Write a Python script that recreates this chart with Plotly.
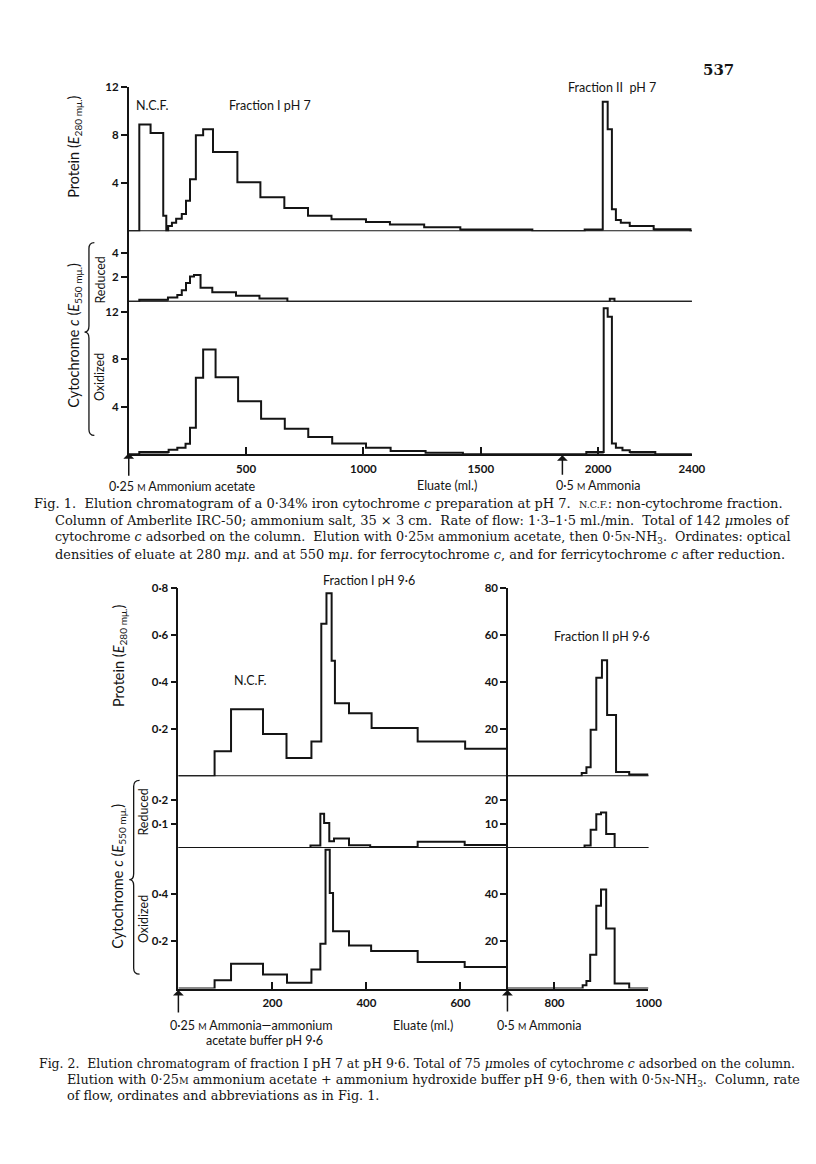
import plotly.graph_objects as go

W, H = 816, 1164
def X(px): return px / W
def Y(py): return 1 - py / H

# ---------------- Fig. 1 data (eluate ml bin edges, optical density) ----------------
f1_prot_edges = [0, 45, 93, 147, 160, 168, 184, 202, 226, 244, 261, 286, 317, 359, 463, 561, 663, 764,
                 864, 1011, 1113, 1259, 1413, 1720, 1943, 2020, 2041, 2059, 2076, 2097, 2135, 2237, 2394, 2400]
f1_prot_vals = [0, 8.9, 8.2, 1.3, 0, 0.45, 0.72, 1.05, 1.45, 2.55, 4.35, 8.0, 8.5, 6.6, 4.1, 2.85, 1.95,
                1.3, 1.0, 0.78, 0.58, 0.35, 0.15, 0, 0.15, 10.8, 8.5, 1.85, 0.95, 0.72, 0.45, 0.18, 0]
f1_prot_shaded = [1413, 1943, 2237]          # fractions drawn with grey fill (start edge)

f1_red_edges = [0, 45, 167, 207, 226, 244, 261, 278, 306, 356, 457, 557, 676, 2050, 2070, 2400]
f1_red_vals = [0, 0.16, 0.35, 0.55, 0.95, 1.55, 2.08, 2.2, 1.15, 0.77, 0.5, 0.27, 0, 0.25, 0]
f1_red_shaded = [45]

f1_ox_edges = [0, 45, 170, 207, 242, 261, 286, 317, 370, 466, 564, 665, 765, 867, 1011, 1116, 1265,
               1424, 1950, 2024, 2041, 2059, 2076, 2104, 2135, 2244, 2400]
f1_ox_vals = [0, 0.2, 0.38, 0.56, 0.89, 2.23, 6.46, 8.84, 6.5, 4.47, 2.99, 2.15, 1.45, 0.92, 0.56,
              0.28, 0.14, 0, 0.2, 12.3, 11.6, 0.9, 0.56, 0.34, 0.2, 0]
f1_ox_shaded = [45, 1950, 2135]

f1_xticks = [500, 1000, 1500, 2000, 2400]
f1_prot_ticks = [4, 8, 12]
f1_red_ticks = [2, 4]
f1_ox_ticks = [4, 8, 12]

# ---------------- Fig. 2 data ----------------
# fraction I (left scale) and fraction II (right scale, x100)
f2_prot_edges = [0, 77, 112, 180, 230, 283, 304, 315, 326, 333, 363, 411, 509, 610, 700]
f2_prot_vals = [0, 0.106, 0.285, 0.18, 0.078, 0.148, 0.647, 0.777, 0.49, 0.31, 0.268, 0.205, 0.148, 0.117]
f2_prot2_edges = [700, 858, 868, 877, 889, 901, 912, 931, 959, 1000]
f2_prot2_vals = [0, 1.4, 3.9, 19.8, 41.8, 49.3, 26, 1.8, 0.8]
f2_prot2_shaded = [959]

f2_red_edges = [0, 281, 302, 310, 321, 331, 363, 408, 509, 609, 700]
f2_red_vals = [0, 0.01, 0.143, 0.104, 0.028, 0.039, 0.011, 0.004, 0.026, 0.012]
f2_red2_edges = [700, 864, 877, 889, 899, 910, 928, 1000]
f2_red2_vals = [0, 1, 7.6, 14.1, 14.8, 5.8, 0]

f2_ox_edges = [0, 77, 112, 180, 231, 283, 302, 313, 322, 329, 363, 410, 509, 609, 700]
f2_ox_vals = [0, 0.035, 0.105, 0.059, 0.025, 0.08, 0.189, 0.585, 0.403, 0.242, 0.182, 0.158, 0.112, 0.091]
f2_ox2_edges = [700, 860, 868, 876, 889, 899, 910, 928, 959, 1000]
f2_ox2_vals = [0, 1.4, 3.2, 14.3, 34.9, 41.8, 25.3, 2.1, 0]

f2_xticks = [200, 400, 600, 800, 1000]
f2_prot_ticks = [0.2, 0.4, 0.6, 0.8]
f2_prot_labels = ["0·2", "0·4", "0·6", "0·8"]
f2_red_ticks = [0.1, 0.2]
f2_red_labels = ["0·1", "0·2"]
f2_ox_ticks = [0.2, 0.4]
f2_ox_labels = ["0·2", "0·4"]
f2_prot2_ticks = [20, 40, 60, 80]
f2_red2_ticks = [10, 20]
f2_ox2_ticks = [20, 40]

INK = "#141414"
GREY = "#8a8a8a"
SANS = "Lato"
SERIF = "DejaVu Serif"

fig = go.Figure()

def add_step(edges, vals, xa, ya, shaded=()):
    for s in shaded:
        i = edges.index(s)
        fig.add_trace(go.Scatter(x=[edges[i], edges[i + 1]], y=[vals[i], vals[i]], mode="lines",
                                 line=dict(width=0, color=GREY), fill="tozeroy", fillcolor=GREY,
                                 xaxis=xa, yaxis=ya, hoverinfo="skip"))
    fig.add_trace(go.Scatter(x=list(edges), y=list(vals) + [vals[-1]], mode="lines",
                             line=dict(shape="hv", color=INK, width=2),
                             xaxis=xa, yaxis=ya, hoverinfo="skip"))

add_step(f1_prot_edges, f1_prot_vals, "x", "y", f1_prot_shaded)
add_step(f1_red_edges, f1_red_vals, "x", "y2", f1_red_shaded)
add_step(f1_ox_edges, f1_ox_vals, "x", "y3", f1_ox_shaded)
add_step(f2_prot_edges, f2_prot_vals, "x2", "y4")
add_step(f2_red_edges, f2_red_vals, "x2", "y5")
add_step(f2_ox_edges, f2_ox_vals, "x2", "y6")
add_step(f2_prot2_edges, f2_prot2_vals, "x2", "y7", f2_prot2_shaded)
add_step(f2_red2_edges, f2_red2_vals, "x2", "y8")
add_step(f2_ox2_edges, f2_ox2_vals, "x2", "y9")

tickfont = dict(family=SANS, size=11.5, color=INK, weight="bold")

def xax(domain, rng, tickvals, anchor):
    return dict(domain=domain, range=rng, anchor=anchor, tickvals=tickvals, ticks="inside",
                ticklen=7, tickwidth=1.5, tickcolor=INK, showline=True, linewidth=2, linecolor=INK,
                showgrid=False, zeroline=False, tickfont=tickfont, fixedrange=True,
                ticklabelstandoff=3)

def yax(domain, rng, tickvals, anchor, ticktext=None, **kw):
    d = dict(domain=domain, range=rng, anchor=anchor, tickvals=tickvals, ticks="outside",
             ticklen=6, tickwidth=1.5, tickcolor=INK, showline=True, linewidth=1.6, linecolor=INK,
             showgrid=False, zeroline=False, tickfont=tickfont, fixedrange=True)
    if ticktext is not None:
        d["ticktext"] = ticktext
    d.update(kw)
    return d

# pixel geometry of panels
f1_x = [X(131), X(704)]
f1_prot_dom = [Y(225.7), Y(80.8)]
f1_red_dom = [Y(296.5), Y(225.7)]
f1_ox_dom = [Y(450), Y(296.5)]
f2_x = [X(181.5), X(659.8)]
f2_prot_dom = [Y(774), Y(584.3)]
f2_red_dom = [Y(846), Y(774)]
f2_ox_dom = [Y(987.5), Y(846)]
f2_mid = X(516)

layout = dict(
    width=W, height=H, margin=dict(l=0, r=0, t=0, b=0),
    paper_bgcolor="white", plot_bgcolor="rgba(0,0,0,0)", showlegend=False,
    xaxis=xax(f1_x, [0, 2400], f1_xticks, "y3"),
    xaxis2=xax(f2_x, [0, 1000], f2_xticks, "y6"),
    yaxis=yax(f1_prot_dom, [0, 12], f1_prot_ticks, "x"),
    yaxis2=yax(f1_red_dom, [0, 5.8], f1_red_ticks, "x"),
    yaxis3=yax(f1_ox_dom, [0, 12.86], f1_ox_ticks, "x"),
    yaxis4=yax(f2_prot_dom, [0, 0.8], f2_prot_ticks, "x2", f2_prot_labels),
    yaxis5=yax(f2_red_dom, [0, 0.3], f2_red_ticks, "x2", f2_red_labels),
    yaxis6=yax(f2_ox_dom, [0, 0.593], f2_ox_ticks, "x2", f2_ox_labels),
    yaxis7=yax(f2_prot_dom, [0, 80], f2_prot2_ticks, "free", overlaying="y4", position=f2_mid, side="left"),
    yaxis8=yax(f2_red_dom, [0, 30], f2_red2_ticks, "free", overlaying="y5", position=f2_mid, side="left"),
    yaxis9=yax(f2_ox_dom, [0, 59.3], f2_ox2_ticks, "free", overlaying="y6", position=f2_mid, side="left"),
)
fig.update_layout(**layout)

# panel baselines
shapes = []
for xr, yr in [("x domain", "y"), ("x domain", "y2"), ("x2 domain", "y4"), ("x2 domain", "y5")]:
    shapes.append(dict(type="line", xref=xr, yref=yr, x0=0, x1=1, y0=0, y1=0,
                       line=dict(color=INK, width=2), layer="above"))

def brace(xr, xm, xl, top, tip, bot):
    r = 6
    p = (f"M {X(xr)},{Y(top)} Q {X(xm)},{Y(top)} {X(xm)},{Y(top + r)} "
         f"L {X(xm)},{Y(tip - r)} Q {X(xm)},{Y(tip)} {X(xl)},{Y(tip)} "
         f"Q {X(xm)},{Y(tip)} {X(xm)},{Y(tip + r)} "
         f"L {X(xm)},{Y(bot - r)} Q {X(xm)},{Y(bot)} {X(xr)},{Y(bot)}")
    return dict(type="path", xref="paper", yref="paper", path=p, line=dict(color=INK, width=1.3))

shapes.append(brace(96, 90.5, 86, 237, 327, 431))
shapes.append(brace(142, 136, 131.5, 778, 878, 973))
fig.update_layout(shapes=shapes)

ann = []
def txt(x, y, s, size=12, family=SANS, angle=0, xanchor="center", weight="normal"):
    ann.append(dict(x=X(x), y=Y(y), xref="paper", yref="paper", text=s, showarrow=False,
                    textangle=angle, xanchor=xanchor, yanchor="middle",
                    font=dict(family=family, size=size, color=INK, weight=weight)))

def arrow(xref, xval, y_tip, y_tail):
    ann.append(dict(x=xval, xref=xref, y=Y(y_tip), yref="paper", ax=0, ay=y_tail - y_tip,
                    axref="pixel", ayref="pixel", text="", showarrow=True, arrowhead=1,
                    arrowsize=1.2, arrowwidth=1.5, arrowcolor=INK))

sm = lambda s, sz=9: f"<span style='font-size:{sz}px'>{s}</span>"

# ----- Fig. 1 labels -----
txt(731, 63, "537", size=15, family=SERIF, weight="bold")
txt(155, 99, "N.C.F.", size=12.5)
txt(275, 99, "Fraction I pH 7", size=12.5)
txt(623, 81, "Fraction II  pH 7", size=12.5)
txt(75, 141, "Protein (<i>E</i><sub>280 mμ.</sub>)", size=14.5, angle=-90)
txt(75, 330, "Cytochrome <i>c</i> (<i>E</i><sub>550 mμ.</sub>)", size=14.5, angle=-90)
txt(102, 275, "Reduced", size=12.5, angle=-90)
txt(102, 372, "Oxidized", size=12.5, angle=-90)
txt(186, 482, "0·25 " + sm("M") + " Ammonium acetate", size=12.5)
txt(455, 481, "Eluate (ml.)", size=12.5)
txt(608, 481, "0·5 " + sm("M") + " Ammonia", size=12.5)
arrow("x", 0, 449, 473)
arrow("x", 1848, 451, 472)

cx1, cx1i = 33, 54
txt(cx1, 499.3, "Fig. 1.  Elution chromatogram of a 0·34% iron cytochrome <i>c</i> preparation at pH 7.  "
    + sm("N.C.F.", 9.5) + ": non-cytochrome fraction.", size=13.0, family=SERIF, xanchor="left")
txt(cx1i, 516.7, "Column of Amberlite IRC-50; ammonium salt, 35 × 3 cm.  Rate of flow: 1·3–1·5 ml./min.  "
    "Total of 142 <i>μ</i>moles of", size=13.0, family=SERIF, xanchor="left")
txt(cx1i, 534, "cytochrome <i>c</i> adsorbed on the column.  Elution with 0·25" + sm("M", 9.5)
    + " ammonium acetate, then 0·5" + sm("N", 9.5) + "-NH<sub>3</sub>.  Ordinates: optical",
    size=12.7, family=SERIF, xanchor="left")
txt(cx1i, 551, "densities of eluate at 280 m<i>μ</i>. and at 550 m<i>μ</i>. for ferrocytochrome <i>c</i>, "
    "and for ferricytochrome <i>c</i> after reduction.", size=12.95, family=SERIF, xanchor="left")

# ----- Fig. 2 labels -----
txt(375, 577, "Fraction I pH 9·6", size=12.5)
txt(254, 678, "N.C.F.", size=12.5)
txt(612, 633, "Fraction II pH 9·6", size=12.5)
txt(121, 653, "Protein (<i>E</i><sub>280 mμ.</sub>)", size=14.5, angle=-90)
txt(121, 874, "Cytochrome <i>c</i> (<i>E</i><sub>550 mμ.</sub>)", size=14.5, angle=-90)
txt(146, 810, "Reduced", size=12.5, angle=-90)
txt(146, 917, "Oxidized", size=12.5, angle=-90)
txt(256, 1024.3, "0·25 " + sm("M") + " Ammonia—ammonium", size=12.5)
txt(269, 1039.5, "acetate buffer pH 9·6", size=12.5)
txt(430, 1024.3, "Eluate (ml.)", size=12.5)
txt(548, 1024.3, "0·5 " + sm("M") + " Ammonia", size=12.5)
arrow("x2", 0, 989, 1013)
arrow("x2", 700, 989, 1012)

cx2, cx2i = 38, 66
txt(cx2, 1063.3, "Fig. 2.  Elution chromatogram of fraction I pH 7 at pH 9·6. Total of 75 <i>μ</i>moles of "
    "cytochrome <i>c</i> adsorbed on the column.", size=12.45, family=SERIF, xanchor="left")
txt(cx2i, 1080, "Elution with 0·25" + sm("M", 9.5) + " ammonium acetate + ammonium hydroxide buffer pH 9·6, "
    "then with 0·5" + sm("N", 9.5) + "-NH<sub>3</sub>.  Column, rate", size=12.8, family=SERIF, xanchor="left")
txt(cx2i, 1095.5, "of flow, ordinates and abbreviations as in Fig. 1.", size=12.8, family=SERIF, xanchor="left")

fig.update_layout(annotations=ann)
fig.write_html("out.html", config={"displayModeBar": False},
               post_script="document.body.style.margin='0';document.documentElement.style.overflow='hidden';")
